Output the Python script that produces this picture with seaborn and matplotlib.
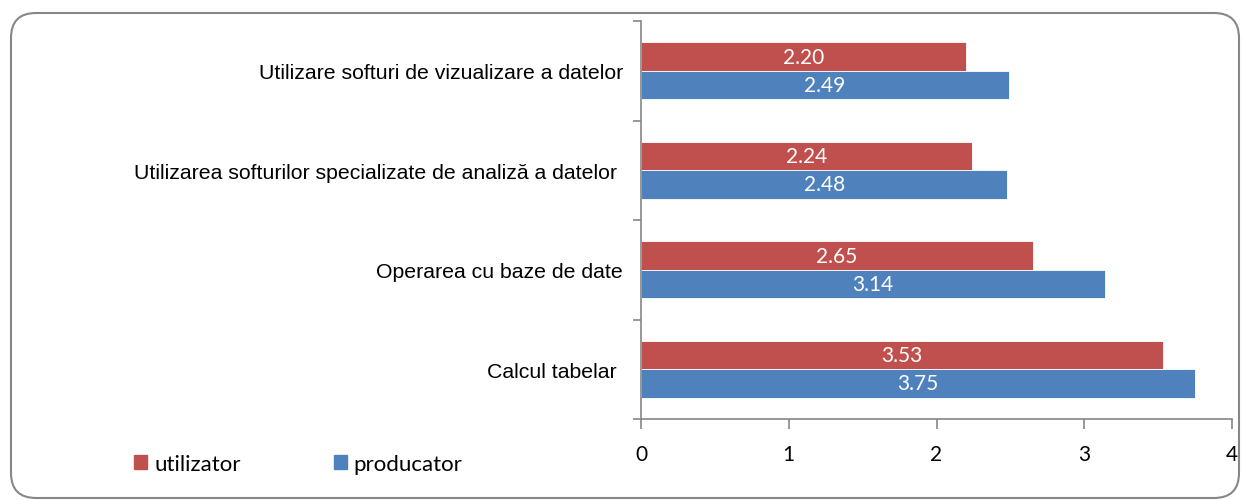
import pandas as pd
import seaborn as sns
import matplotlib.pyplot as plt
from matplotlib.patches import FancyBboxPatch

categories = [
    "Utilizare softuri de vizualizare a datelor",
    "Utilizarea softurilor specializate de analiză a datelor ",
    "Operarea cu baze de date",
    "Calcul tabelar ",
]
utilizator = [2.20, 2.24, 2.65, 3.53]
producator = [2.49, 2.48, 3.14, 3.75]
series = ["utilizator", "producator"]
colors = ["#C0504D", "#4F81BD"]
x_ticks = [0, 1, 2, 3, 4]

df = pd.DataFrame({
    "categorie": categories * 2,
    "valoare": utilizator + producator,
    "serie": [series[0]] * 4 + [series[1]] * 4,
})

sns.set_style("white")
plt.rcParams["font.family"] = ["Lato", "DejaVu Sans"]
plt.rcParams["text.color"] = "black"

fig = plt.figure(figsize=(12.42, 5.02), dpi=100)
ax = fig.add_axes([641 / 1242, 1 - 420 / 502, (1232 - 641) / 1242, (420 - 22) / 502])

sns.barplot(data=df, y="categorie", x="valoare", hue="serie", hue_order=series,
            order=categories, palette=colors, orient="h", width=0.57,
            edgecolor="white", linewidth=0.6, saturation=1, ax=ax, legend=False)

for cont in ax.containers:
    ax.bar_label(cont, fmt="%.2f", label_type="center", color="white", fontsize=15)

ax.set_xlim(0, 4)
ax.set_ylim(3.5, -0.5)
ax.set_xticks(x_ticks)
ax.set_xticklabels([str(t) for t in x_ticks], fontsize=15)
ax.set_yticks(range(len(categories)))
ax.set_yticklabels(categories, fontsize=15.3, family="Liberation Sans")
ax.set_yticks([-0.5, 0.5, 1.5, 2.5, 3.5], minor=True)
ax.tick_params(axis="y", which="major", left=False, length=0, pad=13, labelcolor="black")
ax.tick_params(axis="y", which="minor", left=True, length=6, width=1.2,
               color="#868686", direction="out")
ax.tick_params(axis="x", bottom=True, length=7, width=1.2, color="#868686",
               direction="out", pad=11, labelcolor="black")
ax.set_xlabel("")
ax.set_ylabel("")

sns.despine(ax=ax)
for s in ["left", "bottom"]:
    ax.spines[s].set_color("#868686")
    ax.spines[s].set_linewidth(1.2)

handles = [plt.Rectangle((0, 0), 1, 1, color=c) for c in colors]
fig.legend(handles, series, loc="center left", bbox_to_anchor=(114 / 1242, 1 - 465 / 502),
           ncol=2, frameon=False, fontsize=16, handlelength=0.6, handleheight=0.6,
           handletextpad=0.3, columnspacing=4.2, labelcolor="black")

border = FancyBboxPatch((11, 3), 1228, 485, boxstyle="round,pad=0,rounding_size=25",
                        transform=None, facecolor="none", edgecolor="#878787", linewidth=1.5)
fig.patches.append(border)

fig.savefig("out.png", dpi=100)
